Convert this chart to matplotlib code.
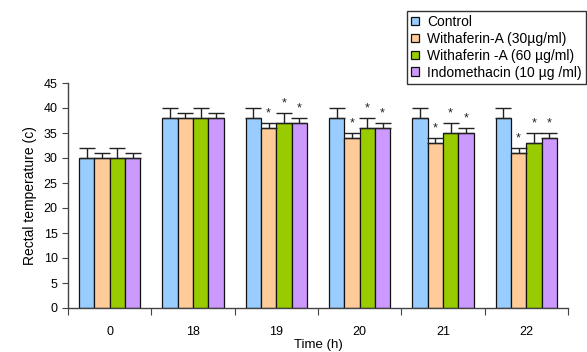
import matplotlib
matplotlib.use('Agg')
import matplotlib.pyplot as plt
import numpy as np

plt.rcParams['font.family'] = ['Liberation Sans', 'DejaVu Sans']

times = ['0', '18', '19', '20', '21', '22']
labels = ['Control', 'Withaferin-A (30µg/ml)', 'Withaferin -A (60 µg/ml)',
          'Indomethacin (10 µg /ml)']
colors = ['#99ccff', '#ffcc99', '#99cc00', '#cc99ff']

control = [30, 38, 38, 38, 38, 38]
wa30 = [30, 38, 36, 34, 33, 31]
wa60 = [30, 38, 37, 36, 35, 33]
indo = [30, 38, 37, 36, 35, 34]

control_err = [2, 2, 2, 2, 2, 2]
wa30_err = [1, 1, 1, 1, 1, 1]
wa60_err = [2, 2, 2, 2, 2, 2]
indo_err = [1, 1, 1, 1, 1, 1]

# significance markers per series (True = '*')
control_sig = [False] * 6
wa30_sig = [False, False, True, True, True, True]
wa60_sig = [False, False, True, True, True, True]
indo_sig = [False, False, True, True, True, True]

series = [control, wa30, wa60, indo]
errors = [control_err, wa30_err, wa60_err, indo_err]
sigs = [control_sig, wa30_sig, wa60_sig, indo_sig]


def main():
    fig = plt.figure(figsize=(5.87, 3.52), dpi=100)
    ax = fig.add_axes([68 / 587, 44 / 352, 500 / 587, 225 / 352])

    x = np.arange(len(times))
    width = 0.184
    offsets = (np.arange(4) - 1.5) * width

    handles = []
    for vals, err, sig, col, lab, off in zip(series, errors, sigs, colors, labels, offsets):
        b = ax.bar(x + off, vals, width, color=col, edgecolor='#111111', linewidth=0.9,
                   label=lab, zorder=2)
        handles.append(b)
        ax.errorbar(x + off, vals, yerr=[np.zeros(len(err)), err], fmt='none',
                    ecolor='#222222', elinewidth=1.0, capsize=5.5, capthick=1.0, zorder=3)
        for xi, v, e, s in zip(x + off, vals, err, sig):
            if s:
                ax.text(xi, v + e + 0.8, '*', ha='center', va='bottom', fontsize=9,
                        color='#222222')

    ax.set_xlim(-0.5, 5.5)
    ax.set_ylim(0, 45)
    ax.set_yticks(np.arange(0, 46, 5))
    ax.set_xticks(np.arange(-0.5, 6, 1))
    ax.set_xticklabels([])
    ax.set_xticks(x, minor=True)
    ax.set_xticklabels(times, minor=True)
    ax.tick_params(axis='x', which='minor', length=0, pad=13, labelsize=9)
    ax.tick_params(axis='x', which='major', length=5, direction='out', color='#444444')
    ax.tick_params(axis='y', length=4, direction='out', color='#444444', labelsize=9)

    for side in ['top', 'right']:
        ax.spines[side].set_visible(False)
    for side in ['left', 'bottom']:
        ax.spines[side].set_color('#444444')
        ax.spines[side].set_linewidth(1.0)

    ax.set_xlabel('Time (h)', fontsize=9.5, labelpad=1)
    ax.set_ylabel('Rectal temperature (c)', fontsize=10, labelpad=5)

    leg = fig.legend(handles=handles, labels=labels, loc='upper left',
                     bbox_to_anchor=(407 / 587, 1 - 11 / 352), fontsize=10,
                     frameon=True, fancybox=False, handlelength=0.55, handleheight=0.55,
                     handletextpad=0.6, labelspacing=0.2, borderpad=0.3,
                     borderaxespad=0)
    leg.get_frame().set_edgecolor('black')
    leg.get_frame().set_linewidth(1.0)

    fig.savefig('out.png', dpi=100)


if __name__ == '__main__':
    main()
